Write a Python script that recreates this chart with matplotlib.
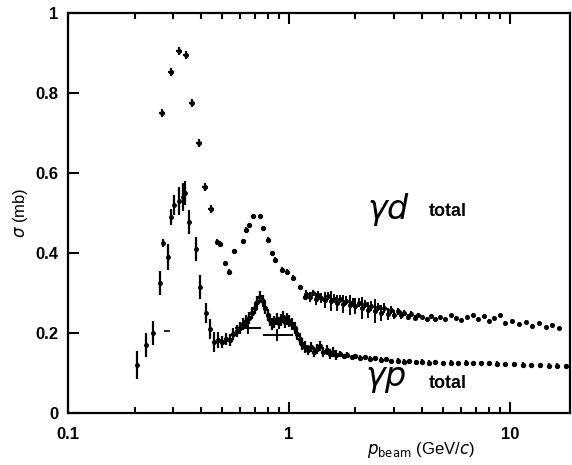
import numpy as np
import matplotlib
matplotlib.use("Agg")
import matplotlib.pyplot as plt
from matplotlib.ticker import LogLocator, NullFormatter, FixedLocator

plt.rcParams["font.family"] = ["Liberation Sans", "DejaVu Sans"]

# ── gamma-d total: early peak points (crosses) ───────────────────────────
gd_peak_x = [0.266, 0.292, 0.318, 0.342, 0.364, 0.392, 0.417, 0.444]
gd_peak_y = [0.750, 0.853, 0.905, 0.895, 0.775, 0.675, 0.565, 0.510]

# ── gamma-d total: second resonance (dots) ──────────────────────────────
gd_mid_x = [0.472, 0.487, 0.513, 0.535, 0.564, 0.619, 0.640, 0.660, 0.687,
            0.739, 0.760, 0.803, 0.837, 0.866, 0.930, 0.980, 1.04, 1.12,
            1.18]
gd_mid_y = [0.428, 0.423, 0.375, 0.353, 0.405, 0.430, 0.458, 0.470, 0.492,
            0.492, 0.462, 0.433, 0.400, 0.383, 0.358, 0.353, 0.338, 0.315,
            0.290]

# ── gamma-d total: high-energy band ─────────────────────────────────────
gd_band_x = [1.20, 1.24, 1.28, 1.32, 1.36, 1.40, 1.45, 1.50, 1.55, 1.60,
             1.65, 1.70, 1.76, 1.82, 1.88, 1.94, 2.00, 2.07, 2.14, 2.21,
             2.28, 2.36, 2.44, 2.52, 2.60, 2.70, 2.80, 2.90, 3.00, 3.10,
             3.20, 3.32, 3.44, 3.56, 3.70, 3.85, 4.00, 4.20, 4.40, 4.60,
             4.85, 5.10, 5.40, 5.70, 6.00, 6.40, 6.80, 7.20, 7.60, 8.00,
             8.50, 9.00, 9.50, 10.2, 11.0, 11.8, 12.6, 13.5, 14.5, 15.5,
             16.6]
gd_band_y = [0.298, 0.290, 0.300, 0.285, 0.295, 0.288, 0.282, 0.292, 0.280,
             0.286, 0.276, 0.284, 0.272, 0.281, 0.270, 0.278, 0.268, 0.276,
             0.262, 0.272, 0.258, 0.268, 0.255, 0.265, 0.250, 0.262, 0.248,
             0.258, 0.246, 0.254, 0.244, 0.250, 0.240, 0.248, 0.238, 0.244,
             0.240, 0.236, 0.242, 0.234, 0.240, 0.236, 0.244, 0.238, 0.232,
             0.240, 0.246, 0.236, 0.242, 0.230, 0.238, 0.244, 0.226, 0.230,
             0.222, 0.228, 0.218, 0.224, 0.216, 0.220, 0.212]
gd_band_err = [0.010, 0.012, 0.008, 0.015, 0.010, 0.012, 0.020, 0.010, 0.025,
               0.012, 0.020, 0.010, 0.022, 0.012, 0.025, 0.010, 0.020, 0.012,
               0.028, 0.010, 0.020, 0.012, 0.030, 0.010, 0.020, 0.012, 0.015,
               0.010, 0.012, 0.008, 0.010, 0.008, 0.008, 0.006, 0.006, 0.006,
               0.005, 0.005, 0.005, 0.004, 0.004, 0.004, 0.004, 0.004, 0.004,
               0.004, 0.004, 0.004, 0.004, 0.004, 0.004, 0.004, 0.004, 0.004,
               0.004, 0.004, 0.004, 0.004, 0.004, 0.004, 0.004]

# ── gamma-p total: low-energy (Delta region) points ─────────────────────
gp_low_x = [0.205, 0.225, 0.242, 0.260, 0.269, 0.283, 0.293, 0.302, 0.318,
            0.330, 0.340, 0.353, 0.380, 0.396, 0.420, 0.440, 0.460, 0.475]
gp_low_y = [0.120, 0.170, 0.200, 0.325, 0.425, 0.390, 0.490, 0.520, 0.530,
            0.540, 0.550, 0.478, 0.410, 0.315, 0.250, 0.210, 0.178, 0.183]
gp_low_err = [0.035, 0.030, 0.030, 0.030, 0.010, 0.033, 0.020, 0.025, 0.035,
              0.035, 0.030, 0.030, 0.030, 0.030, 0.025, 0.025, 0.025, 0.020]
gp_lone_x = [0.280]
gp_lone_y = [0.205]

# ── gamma-p total: band above 0.5 GeV/c ─────────────────────────────────
gp_x = [0.50, 0.52, 0.54, 0.56, 0.58, 0.60, 0.62, 0.64, 0.66, 0.68, 0.70,
        0.72, 0.74, 0.76, 0.78, 0.80, 0.82, 0.84, 0.86, 0.88, 0.90, 0.92,
        0.94, 0.96, 0.98, 1.00, 1.03, 1.06, 1.09, 1.12, 1.15, 1.18, 1.22,
        1.26, 1.30, 1.34, 1.38, 1.43, 1.48, 1.53, 1.58, 1.64, 1.70, 1.77,
        1.84, 1.92, 2.00, 2.10, 2.20, 2.32, 2.45, 2.60, 2.75, 2.90, 3.10,
        3.30, 3.50, 3.75, 4.00, 4.30, 4.60, 5.00, 5.40, 5.80, 6.30, 6.80,
        7.40, 8.00, 8.70, 9.50, 10.4, 11.4, 12.5, 13.7, 15.0, 16.4, 18.0]
gp_y = [0.178, 0.185, 0.182, 0.198, 0.205, 0.212, 0.222, 0.230, 0.238,
        0.250, 0.262, 0.278, 0.290, 0.280, 0.262, 0.245, 0.232, 0.222,
        0.228, 0.236, 0.225, 0.232, 0.240, 0.228, 0.236, 0.230, 0.222,
        0.212, 0.198, 0.185, 0.172, 0.165, 0.158, 0.165, 0.152, 0.160,
        0.168, 0.152, 0.158, 0.148, 0.152, 0.145, 0.148, 0.142, 0.146,
        0.140, 0.142, 0.138, 0.140, 0.136, 0.137, 0.133, 0.134, 0.130,
        0.131, 0.128, 0.129, 0.127, 0.128, 0.126, 0.127, 0.125, 0.126,
        0.124, 0.126, 0.124, 0.125, 0.124, 0.123, 0.122, 0.122, 0.121,
        0.120, 0.119, 0.118, 0.118, 0.117]
gp_err = [0.015] * 32 + [0.012] * 10 + [0.006] * 35

# ── gamma-p: points with horizontal (momentum) bins ─────────────────────
gp_bin_x = [0.655, 0.885]
gp_bin_y = [0.213, 0.195]
gp_bin_lo = [0.570, 0.760]
gp_bin_hi = [0.750, 1.040]

fig = plt.figure(figsize=(5.72, 4.65), dpi=100)
ax = fig.add_axes([68 / 572, 52 / 465, 502 / 572, 400 / 465])

ek = dict(color="black", ecolor="black", linestyle="none", capsize=0)

ax.errorbar(gd_peak_x, gd_peak_y, xerr=[[v * 0.03 for v in gd_peak_x]] * 2,
            yerr=0.01, fmt="o", ms=2.5, elinewidth=1.6, **ek)
ax.errorbar(gd_mid_x, gd_mid_y, yerr=0.006, fmt="o", ms=2.8,
            elinewidth=1.4, **ek)
ax.errorbar(gd_band_x, gd_band_y, yerr=gd_band_err, fmt="o", ms=2.6,
            elinewidth=1.4, **ek)

ax.errorbar(gp_low_x, gp_low_y, yerr=gp_low_err, fmt="o", ms=2.5,
            elinewidth=1.6, **ek)
ax.errorbar(gp_lone_x, gp_lone_y, fmt="_", ms=4, mew=1.2, **ek)
ax.errorbar(gp_x, gp_y, yerr=gp_err, fmt="o", ms=2.8, elinewidth=1.6, **ek)
xerr_bin = [[c - lo for c, lo in zip(gp_bin_x, gp_bin_lo)],
            [hi - c for c, hi in zip(gp_bin_x, gp_bin_hi)]]
ax.errorbar(gp_bin_x, gp_bin_y, xerr=xerr_bin, yerr=0.015, fmt="none",
            elinewidth=1.4, **ek)

ax.set_xscale("log")
ax.set_xlim(0.1, 18.7)
ax.set_ylim(0, 1)
ax.xaxis.set_major_locator(FixedLocator([0.1, 1, 10]))
ax.xaxis.set_minor_locator(LogLocator(base=10, subs=np.arange(2, 10)))
ax.xaxis.set_minor_formatter(NullFormatter())
ax.set_xticklabels(["0.1", "1", "10"])
ax.set_yticks([0, 0.2, 0.4, 0.6, 0.8, 1.0])
ax.set_yticklabels(["0", "0.2", "0.4", "0.6", "0.8", "1"])

ax.tick_params(which="both", direction="in", top=True, right=False,
               width=1.5, labelsize=12)
ax.tick_params(which="major", length=8)
ax.tick_params(which="minor", length=4)
ax.tick_params(axis="x", which="major", pad=10)
ax.tick_params(axis="y", which="major", pad=7)
for lab in ax.get_xticklabels() + ax.get_yticklabels():
    lab.set_fontweight("bold")
for sp in ax.spines.values():
    sp.set_linewidth(1.6)

ax.set_ylabel(r"$\sigma$ (mb)", fontsize=12)
ax.set_xlabel(r"$p_{\mathrm{beam}}$ (GeV/$c$)", fontsize=12)
ax.xaxis.set_label_coords(0.703, -0.068)

ax.text(2.25, 0.51, r"$\gamma d$", fontsize=24, va="center", ha="left")
ax.text(4.3, 0.505, "total", fontsize=13, fontweight="bold", va="center")
ax.text(2.2, 0.085, r"$\gamma p$", fontsize=24, va="center", ha="left")
ax.text(4.3, 0.075, "total", fontsize=13, fontweight="bold", va="center")

fig.savefig("out.png", dpi=100)
